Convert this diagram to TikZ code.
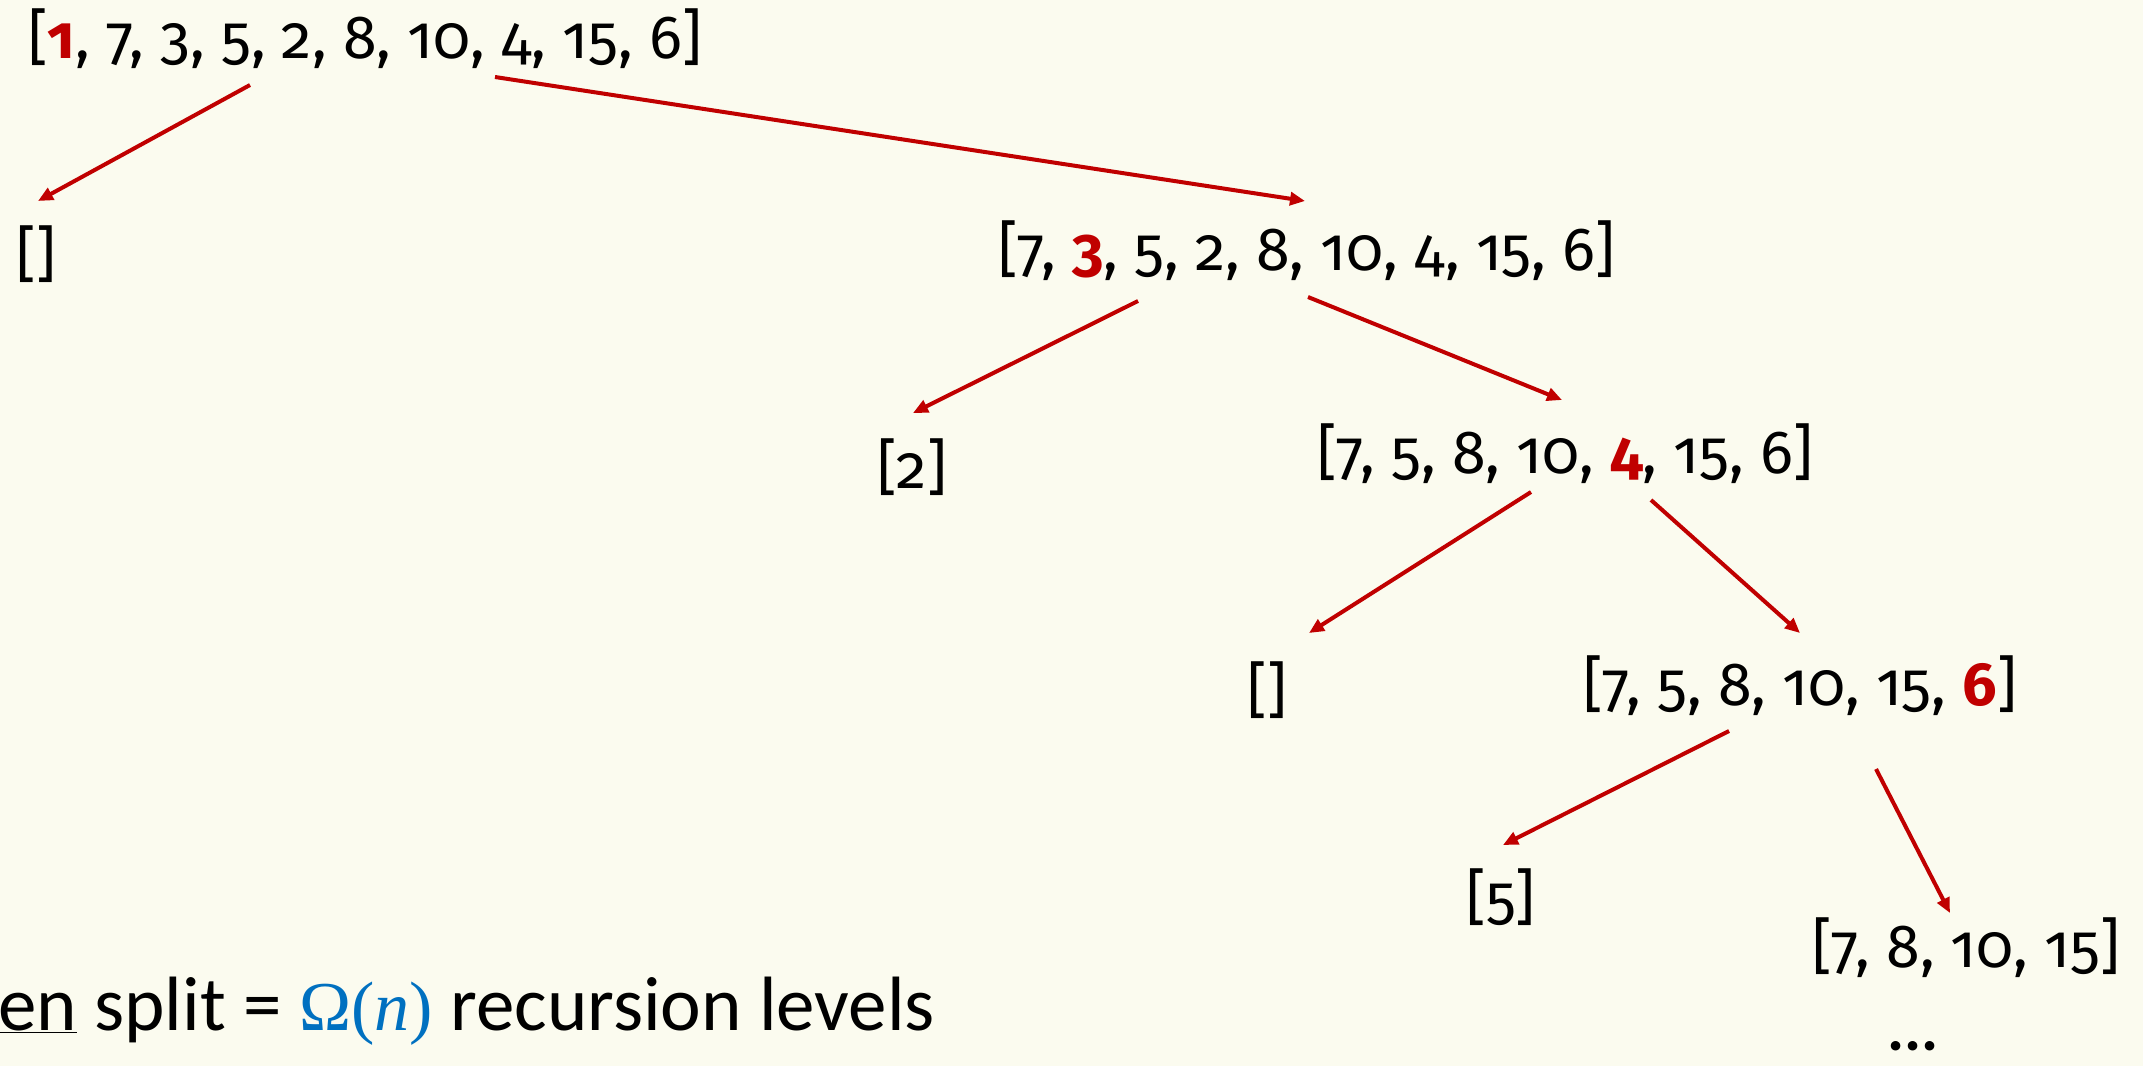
\documentclass[tikz,border=0pt]{standalone}
\usepackage{fontspec}
\setmainfont{Carlito}
\newfontfamily\listfont{Fira Sans}[Numbers=OldStyle]
\newfontfamily\mathlike{Liberation Serif}
\usetikzlibrary{arrows.meta}
\definecolor{bg}{RGB}{251,251,239}
\definecolor{hl}{RGB}{192,0,0}
\definecolor{omg}{RGB}{0,112,192}
\newcommand\pv[1]{\textcolor{hl}{\textbf{#1}}}
\begin{document}
\begin{tikzpicture}[x=1pt,y=-1pt,
  lst/.style={inner sep=0pt, anchor=west, font=\listfont\fontsize{61}{72}\selectfont},
  lstc/.style={inner sep=0pt, anchor=center, font=\listfont\fontsize{61}{72}\selectfont},
  arr/.style={draw=hl, line width=4pt, -{Triangle[length=15pt,width=13pt]}}]
\path[fill=bg, use as bounding box] (0,0) rectangle (2143,1066);
% nodes
\node[lst] (n0) at (28,39) {[\pv{1}, 7, 3, 5, 2, 8, 10, 4, 15, 6]};
\node[lstc] (l0) at (36,254) {[]};
\node[lst] (n1) at (998,251) {[7, \pv{3}, 5, 2, 8, 10, 4, 15, 6]};
\node[lstc] (l1) at (912,467) {[2]};
\node[lst] (n2) at (1317,454) {[7, 5, 8, 10, \pv{4}, 15, 6]};
\node[lstc] (l2) at (1267,690) {[]};
\node[lst] (n3) at (1583,686) {[7, 5, 8, 10, 15, \pv{6}]};
\node[lstc] (l3) at (1501,897) {[5]};
\node[lst] (n4) at (1812,948) {[7, 8, 10, 15]};
\node[inner sep=0pt, anchor=center, font=\bfseries\fontsize{64}{70}\selectfont] (dots) at (1913,1046) {...};
\node[inner sep=0pt, anchor=base west, font=\fontsize{77}{90}\selectfont] (txt) at (-2,1030)
  {\underline{en} split = \textcolor{omg}{\mathlike\fontsize{70}{80}\selectfont Ω(\textit{n})} recursion levels};
% arrow end points
\coordinate (a1s) at (250,85);   \coordinate (a1e) at (38,201);
\coordinate (a2s) at (495,77);   \coordinate (a2e) at (1305,201);
\coordinate (a3s) at (1138,301); \coordinate (a3e) at (913,413);
\coordinate (a4s) at (1308,297); \coordinate (a4e) at (1562,400);
\coordinate (a5s) at (1531,492); \coordinate (a5e) at (1309,633);
\coordinate (a6s) at (1651,500); \coordinate (a6e) at (1800,633);
\coordinate (a7s) at (1729,731); \coordinate (a7e) at (1503,845);
\coordinate (a8s) at (1876,769); \coordinate (a8e) at (1950,913);
\draw[arr] (a1s) -- (a1e);
\draw[arr] (a2s) -- (a2e);
\draw[arr] (a3s) -- (a3e);
\draw[arr] (a4s) -- (a4e);
\draw[arr] (a5s) -- (a5e);
\draw[arr] (a6s) -- (a6e);
\draw[arr] (a7s) -- (a7e);
\draw[arr] (a8s) -- (a8e);
\end{tikzpicture}
\end{document}
